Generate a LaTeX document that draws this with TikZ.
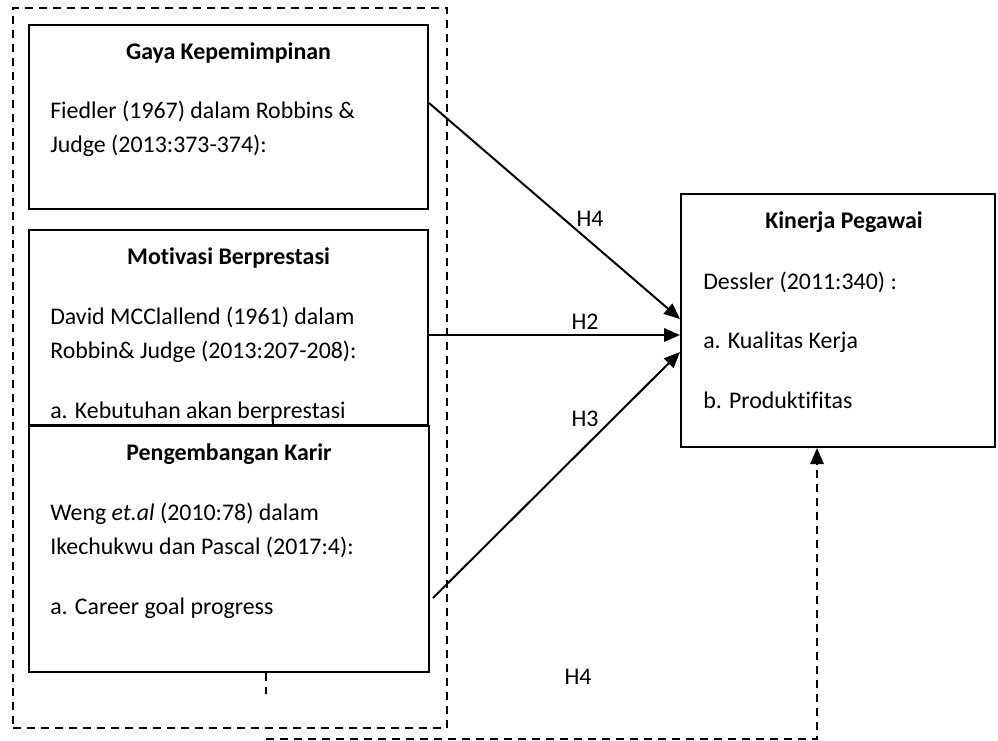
\documentclass[tikz,border=0pt]{standalone}
\usepackage{fontspec}
\setmainfont{Carlito}[Ligatures=NoCommon]
\usetikzlibrary{arrows.meta,calc}

\begin{document}
\begin{tikzpicture}[x=0.75pt,y=-0.75pt,
    every node/.style={font=\fontsize{17.9pt}{25.5pt}\selectfont},
    varbox/.style={draw,fill=white,line width=1.5pt,inner sep=0pt},
    grpbox/.style={draw,line width=1.2pt,dash pattern=on 6pt off 4.5pt,inner sep=0pt},
    dashline/.style={line width=1.2pt,dash pattern=on 6pt off 4.5pt},
    title/.style={anchor=base,font=\fontsize{17.9pt}{25.5pt}\selectfont\bfseries},
    body/.style={anchor=base west,align=left,inner sep=0pt},
    hyp/.style={-{Triangle[length=12pt,width=10pt]},line width=1.5pt}]
  \useasboundingbox (0,0) rectangle (998,740);

  % dashed group round the three variables
  \node[grpbox,minimum width=325.5pt,minimum height=540pt] (grp) at (230,368) {};

  % X1
  \node[varbox,minimum width=299.25pt,minimum height=138pt] (gaya) at (228.5,117) {};
  \node[title] (gaya-t) at (228.5,59) {Gaya Kepemimpinan};
  \node[body] (gaya-b) at (50,152) {Fiedler (1967) dalam Robbins \&\\Judge (2013:373-374):};

  % X2
  \node[varbox,minimum width=299.25pt,minimum height=146.25pt] (motiv) at (228.5,327.5) {};
  \node[title] (motiv-t) at (228.5,264) {Motivasi Berprestasi};
  \node[body] (motiv-b) at (50,418) {David MCClallend (1961) dalam\\Robbin\& Judge (2013:207-208):\\[19.5pt]a. Kebutuhan akan berprestasi};
  \draw[line width=1.2pt] (273,419) -- (273,426);

  % X3
  \node[varbox,minimum width=300pt,minimum height=184.5pt] (peng) at (229,549) {};
  \node[title] (peng-t) at (229,460) {Pengembangan Karir};
  \node[body] (peng-b) at (50,614) {Weng \textit{et.al} (2010:78) dalam\\Ikechukwu dan Pascal (2017:4):\\[19.5pt]a. Career goal progress};

  % Y
  \node[varbox,minimum width=235.5pt,minimum height=189.75pt] (kin) at (838,320.5) {};
  \node[title] (kin-t) at (844,228) {Kinerja Pegawai};
  \node[body] (kin-b) at (703,408) {Dessler (2011:340) :\\[18.75pt]a. Kualitas Kerja\\[19.5pt]b. Produktifitas};

  % hypotheses
  \draw[hyp] ($(gaya.east)+(0,-14)$) -- ($(kin.west)+(0,-1.5)$);
  \draw[hyp] ($(motiv.east)+(0,7.5)$) -- ($(kin.west)+(0,14.5)$);
  \draw[hyp] ($(peng.east)+(3,49)$) -- ($(kin.west)+(0,31.5)$);
  \node (h4a) at (590,219) {H4};
  \node (h2) at (585,322) {H2};
  \node (h3) at (585,419) {H3};
  \node (h4b) at (578,677) {H4};

  % simultaneous path
  \coordinate (tick) at ($(peng.south)+(37,0)$);
  \coordinate (turn) at (266,739);
  \draw[dashline] (tick) -- ++(0,21);
  \draw[dashline,-{Triangle[length=12pt,width=10pt]}] (turn) -| ($(kin.south)+(-21,0)$);
\end{tikzpicture}
\end{document}
